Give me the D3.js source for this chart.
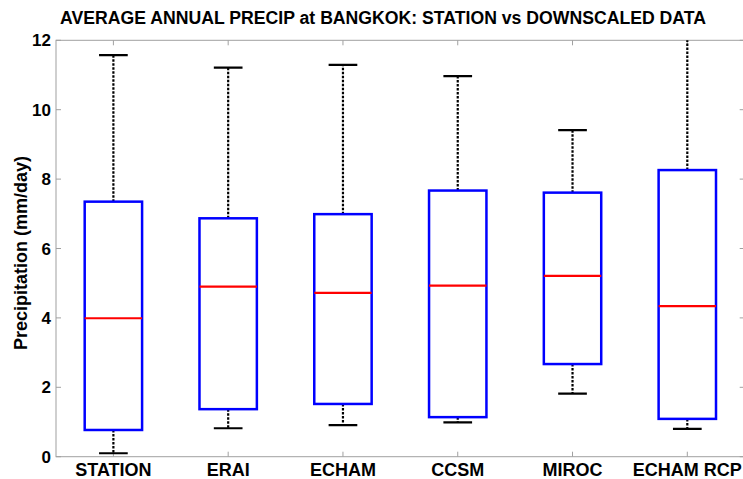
<!DOCTYPE html>
<html lang="en">
<head>
<meta charset="UTF-8" />
<title>Average annual precip at Bangkok</title>
<style>
  body { margin: 0; background: #fff; }
  text { font-family: "Liberation Sans", Arial, sans-serif; font-weight: bold; fill: #000; }
</style>
</head>
<body>
<script src="https://cdn.jsdelivr.net/npm/d3@7"></script>
<script>
// box plot stats (mm/day)
var categories = ["STATION", "ERAI", "ECHAM", "CCSM", "MIROC", "ECHAM RCP"];
var whiskerLow = [0.10, 0.82, 0.91, 0.99, 1.82, 0.80];
var q1         = [0.77, 1.37, 1.52, 1.14, 2.67, 1.09];
var median     = [3.99, 4.90, 4.72, 4.93, 5.21, 4.34];
var q3         = [7.35, 6.87, 6.99, 7.67, 7.61, 8.26];
var whiskerHigh = [11.57, 11.21, 11.29, 10.97, 9.41, 13.5];
var yTicks = [0, 2, 4, 6, 8, 10, 12];

var width = 743, height = 479;
var margin = { top: 40.3, right: -1.7, bottom: 22.3, left: 56 };
var innerW = width - margin.left - margin.right;
var innerH = height - margin.top - margin.bottom;

var svg = d3.select("body").append("svg")
  .attr("width", width)
  .attr("height", height);

// clip so the long whisker stays inside the axes
svg.append("clipPath").attr("id", "plotclip")
  .append("rect").attr("x", 0).attr("y", 0).attr("width", innerW).attr("height", innerH);

var g = svg.append("g")
  .attr("transform", "translate(" + margin.left + "," + margin.top + ")");

var xScale = d3.scaleLinear().domain([0.5, categories.length + 0.5]).range([0, innerW]);
var yScale = d3.scaleLinear().domain([0, 12]).range([innerH, 0]);

var boxW = xScale(1.25) - xScale(1);   // half of 0.5 units
var capW = xScale(1.125) - xScale(1);

// axes box
g.append("rect")
  .attr("width", innerW).attr("height", innerH)
  .attr("fill", "none").attr("stroke", "#a0a0a0").attr("stroke-width", 1);

var xIdx = d3.range(1, categories.length + 1);

// tick marks (inward, all four sides)
var tickLen = 5;
g.selectAll(".ytl").data(yTicks).enter().append("line")
  .attr("x1", 0).attr("x2", tickLen)
  .attr("y1", function(d) { return yScale(d); }).attr("y2", function(d) { return yScale(d); })
  .attr("stroke", "#a0a0a0");
g.selectAll(".ytr").data(yTicks).enter().append("line")
  .attr("x1", innerW).attr("x2", innerW - tickLen)
  .attr("y1", function(d) { return yScale(d); }).attr("y2", function(d) { return yScale(d); })
  .attr("stroke", "#a0a0a0");
g.selectAll(".xtb").data(xIdx).enter().append("line")
  .attr("x1", function(d) { return xScale(d); }).attr("x2", function(d) { return xScale(d); })
  .attr("y1", innerH).attr("y2", innerH - tickLen)
  .attr("stroke", "#a0a0a0");
g.selectAll(".xtt").data(xIdx).enter().append("line")
  .attr("x1", function(d) { return xScale(d); }).attr("x2", function(d) { return xScale(d); })
  .attr("y1", 0).attr("y2", tickLen)
  .attr("stroke", "#a0a0a0");

// tick labels
g.selectAll(".ylab").data(yTicks).enter().append("text")
  .attr("x", -5)
  .attr("y", function(d) { return yScale(d); })
  .attr("dy", "0.36em")
  .attr("text-anchor", "end")
  .style("font-size", "17px")
  .text(function(d) { return d; });

g.selectAll(".xlab").data(categories).enter().append("text")
  .attr("x", function(d, i) { return xScale(i + 1); })
  .attr("y", innerH + 19.5)
  .attr("text-anchor", "middle")
  .style("font-size", "18px")
  .text(function(d) { return d; });

var boxes = g.append("g").attr("clip-path", "url(#plotclip)")
  .selectAll(".box").data(categories).enter().append("g");

// whiskers
boxes.append("line")
  .attr("x1", function(d, i) { return xScale(i + 1); })
  .attr("x2", function(d, i) { return xScale(i + 1); })
  .attr("y1", function(d, i) { return yScale(q3[i]); })
  .attr("y2", function(d, i) { return yScale(whiskerHigh[i]); })
  .attr("stroke", "#000").attr("stroke-width", 2.2).attr("stroke-dasharray", "2.5,1.5");
boxes.append("line")
  .attr("x1", function(d, i) { return xScale(i + 1); })
  .attr("x2", function(d, i) { return xScale(i + 1); })
  .attr("y1", function(d, i) { return yScale(q1[i]); })
  .attr("y2", function(d, i) { return yScale(whiskerLow[i]); })
  .attr("stroke", "#000").attr("stroke-width", 2.2).attr("stroke-dasharray", "2.5,1.5");

// caps
[whiskerHigh, whiskerLow].forEach(function(arr) {
  boxes.append("line")
    .attr("x1", function(d, i) { return xScale(i + 1) - capW; })
    .attr("x2", function(d, i) { return xScale(i + 1) + capW; })
    .attr("y1", function(d, i) { return yScale(arr[i]); })
    .attr("y2", function(d, i) { return yScale(arr[i]); })
    .attr("stroke", "#000").attr("stroke-width", 2.2);
});

// boxes
boxes.append("rect")
  .attr("x", function(d, i) { return xScale(i + 1) - boxW; })
  .attr("width", boxW * 2)
  .attr("y", function(d, i) { return yScale(q3[i]); })
  .attr("height", function(d, i) { return yScale(q1[i]) - yScale(q3[i]); })
  .attr("fill", "none").attr("stroke", "#0000ff").attr("stroke-width", 2.5);

// medians
boxes.append("line")
  .attr("x1", function(d, i) { return xScale(i + 1) - boxW; })
  .attr("x2", function(d, i) { return xScale(i + 1) + boxW; })
  .attr("y1", function(d, i) { return yScale(median[i]); })
  .attr("y2", function(d, i) { return yScale(median[i]); })
  .attr("stroke", "#ff0000").attr("stroke-width", 2.2);

// title + y label
svg.append("text")
  .attr("x", 383).attr("y", 24)
  .attr("text-anchor", "middle")
  .style("font-size", "18px")
  .attr("textLength", 646).attr("lengthAdjust", "spacingAndGlyphs")
  .text("AVERAGE ANNUAL PRECIP at BANGKOK: STATION vs DOWNSCALED DATA");

svg.append("text")
  .attr("transform", "translate(27,253) rotate(-90)")
  .attr("text-anchor", "middle")
  .style("font-size", "18px")
  .text("Precipitation (mm/day)");
</script>
</body>
</html>
